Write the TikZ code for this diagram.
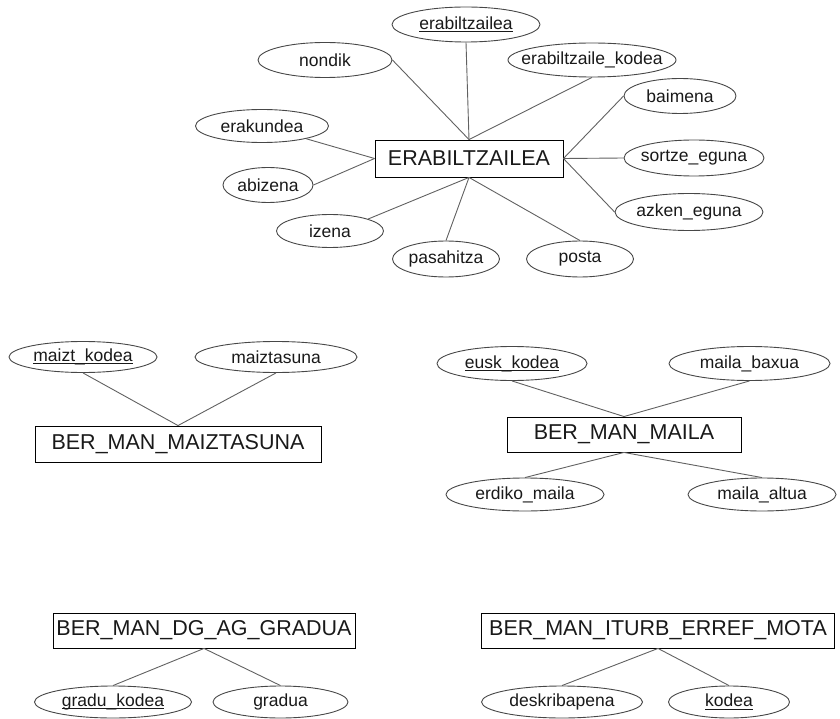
\documentclass[tikz,border=0pt]{standalone}
\usepackage{fontspec}
\setmainfont{Liberation Sans}
\usetikzlibrary{shapes.geometric}
\definecolor{edgegray}{rgb}{0.38,0.38,0.38}
\definecolor{ellgray}{rgb}{0.28,0.28,0.28}
\definecolor{txt}{rgb}{0.1,0.1,0.1}
\newcommand{\keyul}[1]{\setbox0\hbox{#1}\rlap{\rule[-0.16em]{\wd0}{0.06em}}\box0}
\tikzset{
  attr/.style={ellipse, draw=ellgray, line width=0.9pt, inner sep=0pt, text=txt,
    font=\fontsize{17.5}{18}\selectfont},
  ent/.style={rectangle, draw=black, line width=0.9pt, inner sep=0pt, text=txt,
    font=\fontsize{21.5}{22}\selectfont},
  conn/.style={draw=edgegray, line width=0.9pt},
}
\newcommand{\zb}[1]{\makebox[0pt]{#1}}
\begin{document}
\begin{tikzpicture}[x=1pt,y=-1pt]
\useasboundingbox (0,0) rectangle (840,719);
% ---- ERABILTZAILEA cluster
\node[ent, minimum width=188, minimum height=37] (E) at (469,158.5) {\zb{ERABILTZAILEA}};
\node[attr, minimum width=148, minimum height=35] (erab) at (466,24.5) {\zb{\keyul{erabiltzailea}}};
\node[attr, minimum width=134, minimum height=35] (nondik) at (325,60) {\zb{nondik}};
\node[attr, minimum width=168, minimum height=34] (ekod) at (592,60) {\zb{erabiltzaile\_kodea}};
\node[attr, minimum width=133, minimum height=33] (erak) at (262,126) {\zb{erakundea}};
\node[attr, minimum width=112, minimum height=35] (baim) at (680,96) {\zb{baimena}};
\node[attr, minimum width=140, minimum height=36] (sortze) at (694,158) {\zb{sortze\_eguna}};
\node[attr, minimum width=148, minimum height=37] (azken) at (689,212) {\zb{azken\_eguna}};
\node[attr, minimum width=90, minimum height=35] (abiz) at (268,185) {\zb{abizena}};
\node[attr, minimum width=107, minimum height=33] (izena) at (330,231) {\zb{izena}};
\node[attr, minimum width=107, minimum height=36] (pasa) at (446,259) {\zb{pasahitza}};
\node[attr, minimum width=107, minimum height=36] (posta) at (580,259) {\zb{posta}};
\draw[conn] (erab.south) -- (E.north);
\draw[conn] (nondik.east) -- (E.north);
\draw[conn] (ekod.south) -- (E.north);
\draw[conn] (baim.west) -- (E.east);
\draw[conn] (sortze.west) -- (E.east);
\draw[conn] (azken.west) -- (E.east);
\draw[conn] (erak) -- (E.west);
\draw[conn] (abiz.east) -- (E.west);
\draw[conn] (izena.north east) -- (E.south);
\draw[conn] (pasa.north) -- (E.south);
\draw[conn] (posta.north) -- (E.south);
% ---- BER_MAN_MAIZTASUNA
\node[ent, minimum width=286, minimum height=36] (M) at (178,444) {\zb{BER\_MAN\_MAIZTASUNA}};
\node[attr, minimum width=148, minimum height=31] (mkod) at (83,357) {\zb{\keyul{maizt\_kodea}}};
\node[attr, minimum width=162, minimum height=31] (maizt) at (276,357) {\zb{maiztasuna}};
\draw[conn] (mkod.south) -- (M.north);
\draw[conn] (maizt.south) -- (M.north);
% ---- BER_MAN_MAILA
\node[ent, minimum width=234, minimum height=35] (L) at (624,434.5) {\zb{BER\_MAN\_MAILA}};
\node[attr, minimum width=150, minimum height=34] (eusk) at (512,363.5) {\zb{\keyul{eusk\_kodea}}};
\node[attr, minimum width=161, minimum height=34] (baxua) at (749.5,363.5) {\zb{maila\_baxua}};
\node[attr, minimum width=158, minimum height=33] (erdiko) at (525,494.5) {\zb{erdiko\_maila}};
\node[attr, minimum width=148, minimum height=33] (altua) at (762,494.5) {\zb{maila\_altua}};
\draw[conn] (eusk.south) -- (L.north);
\draw[conn] (baxua.south) -- (L.north);
\draw[conn] (L.south) -- (erdiko.north);
\draw[conn] (L.south) -- (altua.north);
% ---- BER_MAN_DG_AG_GRADUA
\node[ent, minimum width=302, minimum height=35] (DG) at (204,630.5) {\zb{BER\_MAN\_DG\_AG\_GRADUA}};
\node[attr, minimum width=157, minimum height=32] (gkod) at (113,702) {\zb{\keyul{gradu\_kodea}}};
\node[attr, minimum width=135, minimum height=32] (grad) at (280.5,702) {\zb{gradua}};
\draw[conn] (DG.south) -- (gkod.north);
\draw[conn] (DG.south) -- (grad.north);
% ---- BER_MAN_ITURB_ERREF_MOTA
\node[ent, minimum width=353, minimum height=35] (IT) at (658,630.5) {\zb{BER\_MAN\_ITURB\_ERREF\_MOTA}};
\node[attr, minimum width=161, minimum height=32] (desk) at (562,702) {\zb{deskribapena}};
\node[attr, minimum width=121, minimum height=32] (kod) at (729,702) {\zb{\keyul{kodea}}};
\draw[conn] (IT.south) -- (desk.north);
\draw[conn] (IT.south) -- (kod.north);
\end{tikzpicture}
\end{document}
